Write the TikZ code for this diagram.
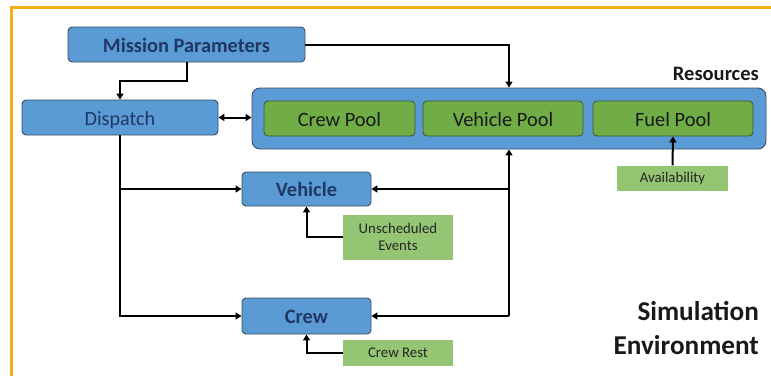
\documentclass[tikz,border=0pt]{standalone}
\usepackage{fontspec}
\setmainfont{Carlito}
\usetikzlibrary{arrows.meta,calc}
\definecolor{bluefill}{HTML}{5B9BD5}
\definecolor{blueline}{HTML}{3A4D66}
\definecolor{bluetext}{HTML}{1F3864}
\definecolor{greenfill}{HTML}{70AD47}
\definecolor{greenline}{HTML}{3F5A2C}
\definecolor{lightgreen}{HTML}{93C572}
\definecolor{framecol}{HTML}{EEB111}
\tikzset{
  bluebox/.style={draw=blueline, line width=0.9pt, fill=bluefill, rounded corners=4pt, text=bluetext, inner sep=0pt, text height=15pt, text depth=0pt},
  poolbox/.style={draw=greenline, line width=0.9pt, fill=greenfill, rounded corners=4pt, text=black!90, inner sep=0pt, font=\fontsize{20.4}{24}\selectfont, text height=15.5pt, text depth=0pt},
  inbox/.style={fill=lightgreen, text=black!85, inner sep=0pt, align=center, font=\fontsize{14.8}{17}\selectfont, text height=9.5pt, text depth=0pt},
  conn/.style={line width=2pt, -{Triangle[length=6pt,width=7pt]}},
  bigfont/.style={font=\fontsize{20.4}{24}\selectfont\bfseries},
}
\begin{document}
\begin{tikzpicture}[x=1pt,y=-1pt]
\useasboundingbox (0,0) rectangle (771,375);
\begin{scope}
\clip (0,0) rectangle (771,375);
\draw[framecol, line width=2.5pt] (11.7,390) -- (11.7,7.3) -- (790,7.3);
\end{scope}

\node[bluebox, bigfont, minimum width=237pt, minimum height=35pt] (mission) at (186.5,44.5) {Mission Parameters};
\node[bluebox, minimum width=196pt, minimum height=35pt, font=\fontsize{20.2}{24}\selectfont, text height=16pt] (dispatch) at (120,117.5) {Dispatch};
\node[bluebox, rounded corners=8pt, minimum width=514pt, minimum height=61pt] (resources) at (509,118.5) {};
\node[poolbox, minimum width=151pt, minimum height=35pt] (crewpool) at (339.5,118.5) {Crew Pool};
\node[poolbox, minimum width=160pt, minimum height=35pt] (vehiclepool) at (503,118.5) {Vehicle Pool};
\node[poolbox, minimum width=160pt, minimum height=35pt] (fuelpool) at (673,118.5) {Fuel Pool};
\node[anchor=east, font=\fontsize{20.5}{24}\selectfont\bfseries, text=black!90, inner sep=0pt, text height=13.2pt, text depth=0pt] (reslabel) at (759,73.5) {Resources};

\node[bluebox, bigfont, minimum width=129pt, minimum height=34pt, text height=14pt] (vehicle) at (306.5,189) {Vehicle};
\node[bluebox, bigfont, minimum width=129pt, minimum height=36pt] (crew) at (306.5,316) {Crew};
\node[inbox, minimum width=110pt, minimum height=45pt, text height=26.5pt] (unsched) at (398,237) {Unscheduled\\Events};
\node[inbox, minimum width=110pt, minimum height=26pt] (crewrest) at (398,353) {Crew Rest};
\node[inbox, minimum width=111pt, minimum height=25pt] (avail) at (672.5,178) {Availability};

\node[anchor=east, align=right, inner sep=0pt, font=\fontsize{27.2}{34}\selectfont\bfseries, text=black!90, text height=51.5pt, text depth=0pt] (simenv) at (759,329) {Simulation\\Environment};

\draw[conn] (mission.south) -- ++(0,19) -| (dispatch.north);
\draw[conn] (mission.east) -| (resources.north);
\draw[line width=2pt, {Triangle[length=6pt,width=7pt]}-{Triangle[length=6pt,width=7pt]}] (dispatch.east) -- (dispatch.east -| resources.west);
\coordinate (dj) at (dispatch.south |- vehicle.west);
\draw[conn] (dispatch.south) |- (crew.west);
\draw[conn] (dj) -- (vehicle.west);
\coordinate (rj) at (resources.south |- crew.east);
\coordinate (rv) at (resources.south |- vehicle.east);
\draw[conn] (rj) -- (resources.south);
\draw[conn] (rj) -- (crew.east);
\draw[conn] (rv) -- (vehicle.east);
\draw[conn] (unsched.west) -| (vehicle.south);
\draw[conn] (crewrest.west) -| (crew.south);
\draw[conn] (avail.north) -- (fuelpool.south);
\end{tikzpicture}
\end{document}
